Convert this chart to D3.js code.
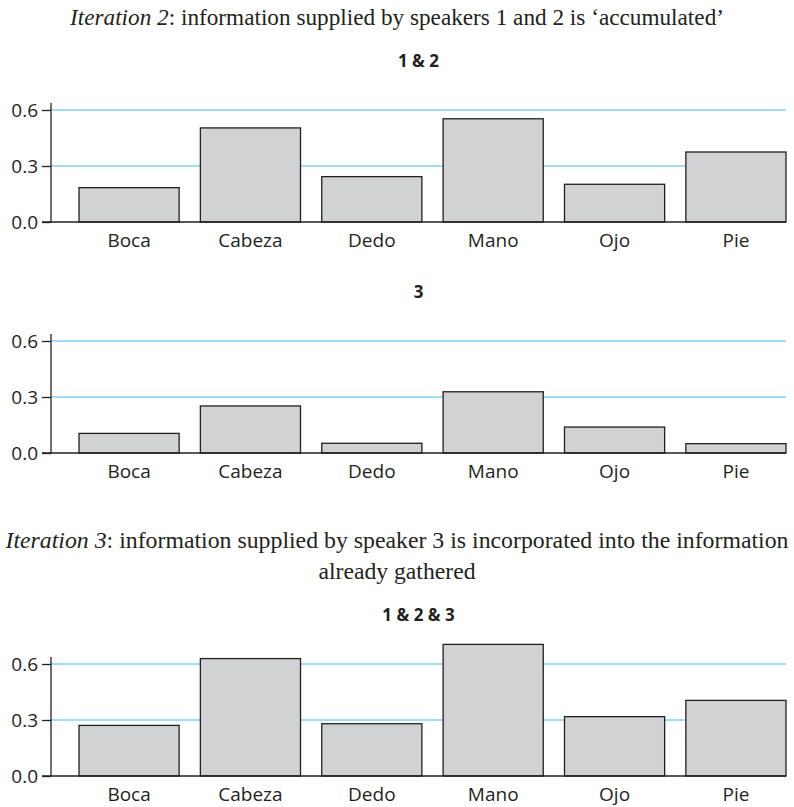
<!DOCTYPE html>
<html>
<head>
<meta charset="utf-8">
<script src="https://cdn.jsdelivr.net/npm/d3@7"></script>
<style>
  body { margin: 0; background: #fff; }
  .serif { font-family: "Liberation Serif", "DejaVu Serif", serif; fill: #231f20; }
  .sans { font-family: "Open Sans", "Noto Sans", sans-serif; fill: #231f20; }
</style>
</head>
<body>
<svg width="794" height="807"></svg>
<script>
const categories = ['Boca', 'Cabeza', 'Dedo', 'Mano', 'Ojo', 'Pie'];
const yTicks = [0.0, 0.3, 0.6];
const speakers12 = [0.184, 0.504, 0.243, 0.553, 0.202, 0.375];
const speaker3 = [0.105, 0.252, 0.052, 0.328, 0.139, 0.050];
const speakers123 = [0.271, 0.629, 0.280, 0.705, 0.318, 0.405];

const svg = d3.select('svg');
const left = 51, right = 786;
const fmt = d3.format('.1f');

const x = d3.scaleBand().domain(categories).range([79, 786]).paddingInner(0.175).paddingOuter(0);

function caption(y, italic, rest, len) {
    const t = svg.append('text').attr('class', 'serif')
        .attr('x', 397).attr('y', y)
        .attr('text-anchor', 'middle')
        .style('font-size', '23px');
    if (len) t.attr('textLength', len).attr('lengthAdjust', 'spacingAndGlyphs');
    if (italic) t.append('tspan').style('font-style', 'italic').text(italic);
    t.append('tspan').text(rest);
}

function panel(values, title, base) {
    const y = d3.scaleLinear().domain([0, 0.6]).range([base, base - 112]);
    const g = svg.append('g');

    g.append('text').attr('class', 'sans')
        .attr('x', (left + right) / 2).attr('y', y(0.6) - 43)
        .attr('text-anchor', 'middle')
        .style('font-size', '17px').style('font-weight', 'bold')
        .text(title);

    // gridlines
    yTicks.filter(d => d > 0).forEach(d => {
        g.append('line')
            .attr('x1', left).attr('x2', right)
            .attr('y1', y(d)).attr('y2', y(d))
            .attr('stroke', '#3fc0ef').attr('stroke-width', 1.2);
    });

    g.selectAll('rect').data(values).join('rect')
        .attr('x', (d, i) => x(categories[i]))
        .attr('width', x.bandwidth())
        .attr('y', d => y(d))
        .attr('height', d => y(0) - y(d))
        .attr('fill', '#d1d2d4')
        .attr('stroke', '#231f20')
        .attr('stroke-width', 1.3);

    // y axis
    const yAxis = d3.axisLeft(y).tickValues(yTicks).tickFormat(fmt).tickSize(9).tickPadding(4);
    const ya = g.append('g').attr('transform', 'translate(' + left + ',0)').call(yAxis);
    ya.select('.domain').attr('d', 'M0,' + (y(0.6) - 7) + 'V' + y(0)).attr('stroke', '#231f20').attr('stroke-width', 1.3);
    ya.selectAll('.tick line').attr('stroke', '#231f20').attr('stroke-width', 1.3);
    ya.selectAll('.tick text').attr('class', 'sans').attr('fill', '#231f20')
        .style('font-size', '19px').attr('dy', '0.36em');

    // x axis
    const xAxis = d3.axisBottom(x).tickSize(0).tickPadding(12);
    const xa = g.append('g').attr('transform', 'translate(0,' + y(0) + ')').call(xAxis);
    xa.select('.domain').attr('d', 'M' + (left - 9) + ',0H' + right).attr('stroke', '#231f20').attr('stroke-width', 1.3);
    xa.selectAll('.tick text').attr('class', 'sans').attr('fill', '#231f20').style('font-size', '19px');
}

caption(25, 'Iteration 2', ': information supplied by speakers 1 and 2 is \u2018accumulated\u2019', 654);
panel(speakers12, '1 & 2', 222);
panel(speaker3, '3', 453);
caption(548, 'Iteration 3', ': information supplied by speaker 3 is incorporated into the information', 783);
caption(579, null, 'already gathered', 157);
panel(speakers123, '1 & 2 & 3', 776);
</script>
</body>
</html>
